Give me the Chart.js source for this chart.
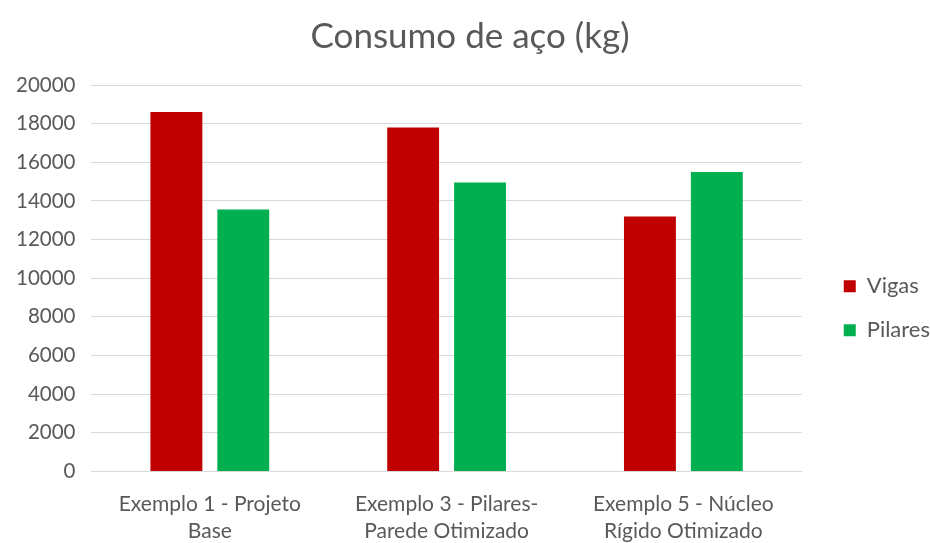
<!DOCTYPE html>
<html lang="pt">
<head>
    <meta charset="UTF-8">
    <title>Consumo de aço (kg)</title>
    <script src="https://cdn.jsdelivr.net/npm/chart.js"></script>
    <style>
        body { margin: 0; padding: 0; background: #ffffff; }
        .chart-container { width: 930px; height: 543px; position: relative; }
    </style>
</head>
<body>
    <div class="chart-container">
        <canvas id="acoChart"></canvas>
    </div>

    <script>
        // Data
        const categories = [
            ['Exemplo 1 - Projeto', 'Base'],
            ['Exemplo 3 - Pilares-', 'Parede Otimizado'],
            ['Exemplo 5 - Núcleo', 'Rígido Otimizado']
        ];
        const vigas = [18600, 17800, 13200];
        const pilares = [13550, 14950, 15500];

        const textColor = '#595959';
        const fontFamily = 'Lato, "Open Sans", sans-serif';

        new Chart(document.getElementById('acoChart'), {
            type: 'bar',
            data: {
                labels: categories,
                datasets: [{
                    label: 'Vigas',
                    data: vigas,
                    backgroundColor: '#c00000',
                    categoryPercentage: 0.565,
                    barPercentage: 0.776
                }, {
                    label: 'Pilares',
                    data: pilares,
                    backgroundColor: '#00b050',
                    categoryPercentage: 0.565,
                    barPercentage: 0.776
                }]
            },
            options: {
                responsive: true,
                maintainAspectRatio: false,
                animation: false,
                layout: { padding: { top: 16, left: 0, right: -10, bottom: -13 } },
                plugins: {
                    title: {
                        display: true,
                        text: 'Consumo de aço (kg)',
                        color: textColor,
                        font: { family: fontFamily, size: 35, weight: 'normal' },
                        padding: { top: 0, bottom: 27 }
                    },
                    legend: {
                        position: 'right',
                        // blank title just pushes the items down a bit
                        title: {
                            display: true,
                            text: '',
                            font: { family: fontFamily, size: 22 },
                            padding: { top: 9, bottom: 9 }
                        },
                        labels: {
                            color: textColor,
                            font: { family: fontFamily, size: 22 },
                            boxWidth: 12,
                            boxHeight: 12,
                            padding: 22
                        }
                    },
                    tooltip: { enabled: false }
                },
                scales: {
                    x: {
                        grid: { display: false },
                        border: { color: '#d9d9d9' },
                        ticks: {
                            color: textColor,
                            font: { family: fontFamily, size: 21, lineHeight: 1.3 },
                            maxRotation: 0,
                            padding: 11
                        }
                    },
                    y: {
                        min: 0,
                        max: 20000,
                        ticks: {
                            stepSize: 2000,
                            color: textColor,
                            font: { family: fontFamily, size: 20.5 },
                            padding: 16,
                            callback: v => String(v)
                        },
                        grid: { color: '#d9d9d9', drawTicks: false },
                        border: { display: false }
                    },
                    // empty spacer between plot and legend
                    gap: {
                        position: 'right',
                        grid: { display: false },
                        border: { display: false },
                        ticks: { display: false },
                        afterFit: s => { s.width = 20; }
                    }
                }
            }
        });
    </script>
</body>
</html>
